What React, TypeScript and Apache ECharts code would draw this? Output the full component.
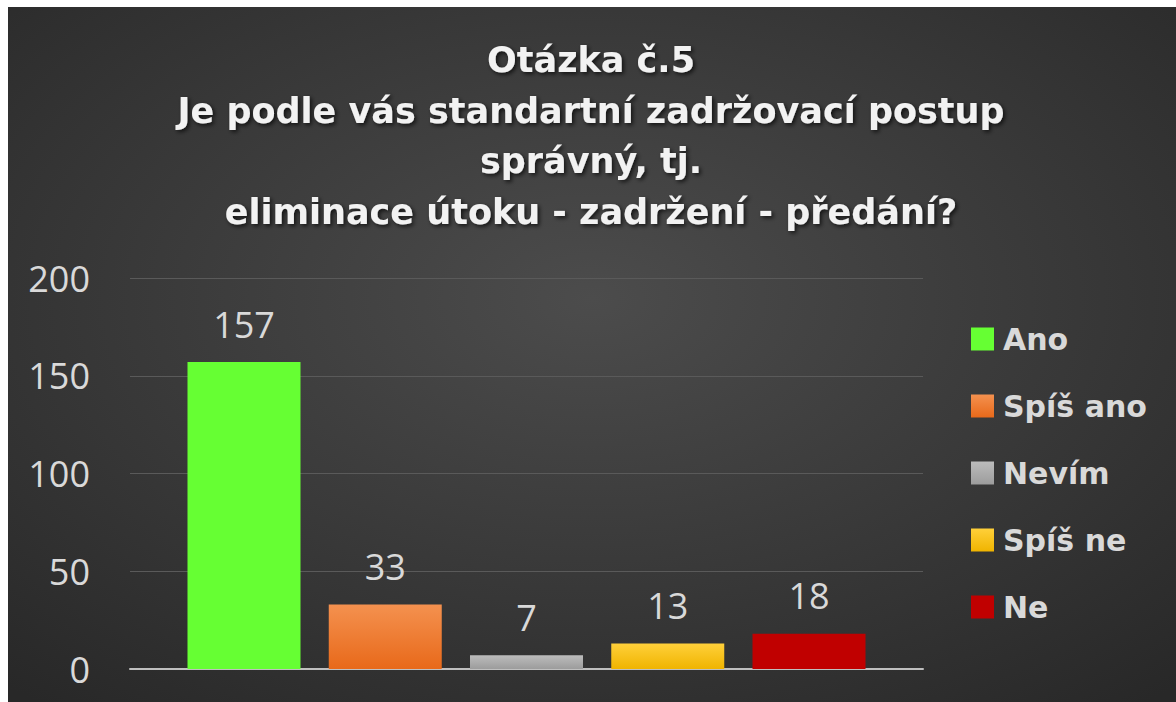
import React, { useEffect, useRef } from "react";
import * as echarts from "echarts";

const titleLines = [
  "Otázka č.5",
  "Je podle vás standartní zadržovací postup",
  "správný, tj.",
  "eliminace útoku - zadržení - předání?",
];
const seriesNames = ["Ano", "Spíš ano", "Nevím", "Spíš ne", "Ne"];
const seriesValues = [157, 33, 7, 13, 18];
const topColors = ["#66ff33", "#f4914f", "#bcbcbc", "#ffd03a", "#c00000"];
const bottomColors = ["#66ff33", "#e8691a", "#9c9c9c", "#f0b400", "#c00000"];
const yTicks = { min: 0, max: 200, interval: 50 };

const FONT = "'Open Sans', 'DejaVu Sans', sans-serif";
const BOLD_FONT = "'DejaVu Sans', sans-serif";

export default function App() {
  const ref = useRef<HTMLDivElement>(null);
  useEffect(() => {
    if (!ref.current) return;
    const chart = echarts.init(ref.current, undefined, { renderer: "svg" });
    chart.setOption({
      animation: false,
      backgroundColor: {
        type: "radial",
        x: 0.5,
        y: 0.42,
        r: 0.75,
        colorStops: [
          { offset: 0, color: "#4c4c4c" },
          { offset: 1, color: "#282828" },
        ],
      },
      title: {
        text: titleLines.join("\n"),
        left: 578,
        top: 23,
        textAlign: "center",
        textStyle: {
          color: "#f2f2f2",
          fontFamily: BOLD_FONT,
          fontWeight: 700,
          fontSize: 35,
          lineHeight: 50.5,
          textShadowColor: "rgba(0,0,0,0.7)",
          textShadowBlur: 4,
          textShadowOffsetX: 2,
          textShadowOffsetY: 2,
        },
      },
      legend: {
        orient: "vertical",
        left: 958,
        top: 312,
        itemWidth: 23,
        itemHeight: 23,
        itemGap: 37,
        icon: "rect",
        data: seriesNames,
        textStyle: {
          color: "#d9d9d9",
          fontFamily: BOLD_FONT,
          fontWeight: 700,
          fontSize: 30,
          lineHeight: 30,
          padding: [0, 0, 0, 4],
        },
      },
      grid: { left: 122, right: 253, top: 271, bottom: 33 },
      xAxis: {
        type: "category",
        data: [""],
        axisLine: { lineStyle: { color: "#bfbfbf", width: 2 } },
        axisTick: { show: false },
        axisLabel: { show: false },
      },
      yAxis: {
        type: "value",
        min: yTicks.min,
        max: yTicks.max,
        interval: yTicks.interval,
        axisLine: { show: false },
        axisTick: { show: false },
        axisLabel: {
          color: "#d9d9d9",
          fontFamily: FONT,
          fontSize: 36,
          margin: 40,
        },
        splitLine: { lineStyle: { color: "#5a5a5a", width: 1 } },
      },
      series: seriesNames.map((name, i) => ({
        type: "bar",
        name,
        data: [seriesValues[i]],
        barWidth: 113,
        barGap: "25%",
        itemStyle: {
          color: {
            type: "linear",
            x: 0,
            y: 0,
            x2: 0,
            y2: 1,
            colorStops: [
              { offset: 0, color: topColors[i] },
              { offset: 1, color: bottomColors[i] },
            ],
          },
        },
        label: {
          show: true,
          position: "top",
          distance: 20,
          color: "#d9d9d9",
          fontFamily: FONT,
          fontSize: 36,
        },
      })),
    });
    return () => chart.dispose();
  }, []);
  return (
    <div
      ref={ref}
      style={{ position: "absolute", left: 8, top: 7, width: 1168, height: 695 }}
    />
  );
}
